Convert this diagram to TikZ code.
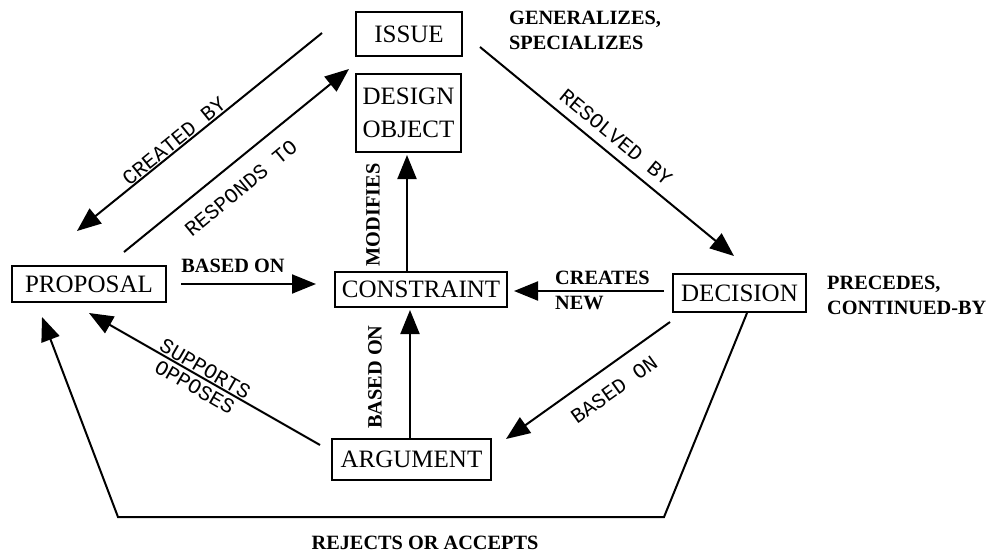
\documentclass[tikz,border=0pt]{standalone}
\usepackage{fontspec}
\setmainfont{Liberation Serif}
\newfontfamily\pixfont{Liberation Mono}
\usetikzlibrary{arrows.meta,calc}
\tikzset{
  box/.style={draw,line width=2pt,inner sep=0pt,font=\fontsize{25}{33}\selectfont,align=center},
  conn/.style={line width=2pt,-{Triangle[length=24pt,width=19pt]}},
  lbl/.style={inner sep=0pt,font=\bfseries\fontsize{20.3}{25}\selectfont,align=left},
  pix/.style={inner sep=0pt,font=\pixfont\fontsize{21}{21}\selectfont,align=center},
}
\begin{document}
\begin{tikzpicture}[x=1pt,y=-1pt]
\useasboundingbox (0,0) rectangle (992,552);
% nodes
\node[box,minimum width=106pt,minimum height=44pt] (issue) at (409,34) {ISSUE};
\node[box,minimum width=105pt,minimum height=78pt] (design) at (408.5,113) {DESIGN\\OBJECT};
\node[box,minimum width=172pt,minimum height=35pt] (constraint) at (421,289.5) {CONSTRAINT};
\node[box,minimum width=154pt,minimum height=36pt] (proposal) at (89,284) {PROPOSAL};
\node[box,minimum width=159pt,minimum height=41pt] (argument) at (411.5,459.5) {ARGUMENT};
\node[box,minimum width=133pt,minimum height=38pt] (decision) at (739.5,293) {DECISION};
% connectors
\draw[conn] ($(issue.west)+(-33,-1)$) -- ($(proposal.north)+(-12,-34)$);
\draw[conn] ($(proposal.north)+(35,-13)$) -- ($(issue.south west)+(-6,12)$);
\draw[conn] ($(constraint.north)+(-14,0)$) -- ($(design.south)+(-1.5,2)$);
\draw[conn] ($(proposal.east)+(14,0)$) -- ($(constraint.west)+(-18,-5.5)$);
\draw[conn] ($(issue.east)+(17,13)$) -- ($(decision.north)+(-5.5,-17)$);
\draw[conn] ($(decision.west)+(-8,-2)$) -- ($(constraint.east)+(6,1.5)$);
\draw[conn] ($(decision.south west)+(-2,9)$) -- ($(argument.north east)+(14,1)$);
\draw[conn] ($(argument.north)+(-1.5,0)$) -- ($(constraint.south)+(-11,2)$);
\draw[conn] ($(argument.west)+(-11,-14.5)$) -- ($(proposal.south)+(0,10)$);
\coordinate (rb) at (664,517);
\coordinate (lb) at (118,517);
\draw[conn,line join=miter] ($(decision.south)+(7.5,0)$) -- (rb) -- (lb) -- ($(proposal.south west)+(31,14)$);
% labels
\node[lbl,anchor=west] (gen) at (509,30) {GENERALIZES,\\SPECIALIZES};
\node[lbl,anchor=west] (prec) at (827,295) {PRECEDES,\\CONTINUED-BY};
\node[lbl,anchor=west] (cnew) at (555,290.5) {CREATES\\NEW};
\node[lbl] (rej) at (425,543) {REJECTS OR ACCEPTS};
\node[lbl] (bo1) at (233,266) {BASED ON};
\node[lbl,rotate=90] (mod) at (373,215) {MODIFIES};
\node[lbl,rotate=90] (bo2) at (375,377) {BASED ON};
\node[pix,rotate=39] (cby) at (174,141) {CREATED BY};
\node[pix,rotate=39.5] (rto) at (241,188) {RESPONDS TO};
\node[pix,rotate=-39.5] (rby) at (616,137) {RESOLVED BY};
\node[pix,rotate=35.6] (bo3) at (614,390) {BASED ON};
\node[pix,rotate=-30] (sup) at (200,378) {SUPPORTS\\OPPOSES};
\end{tikzpicture}
\end{document}
